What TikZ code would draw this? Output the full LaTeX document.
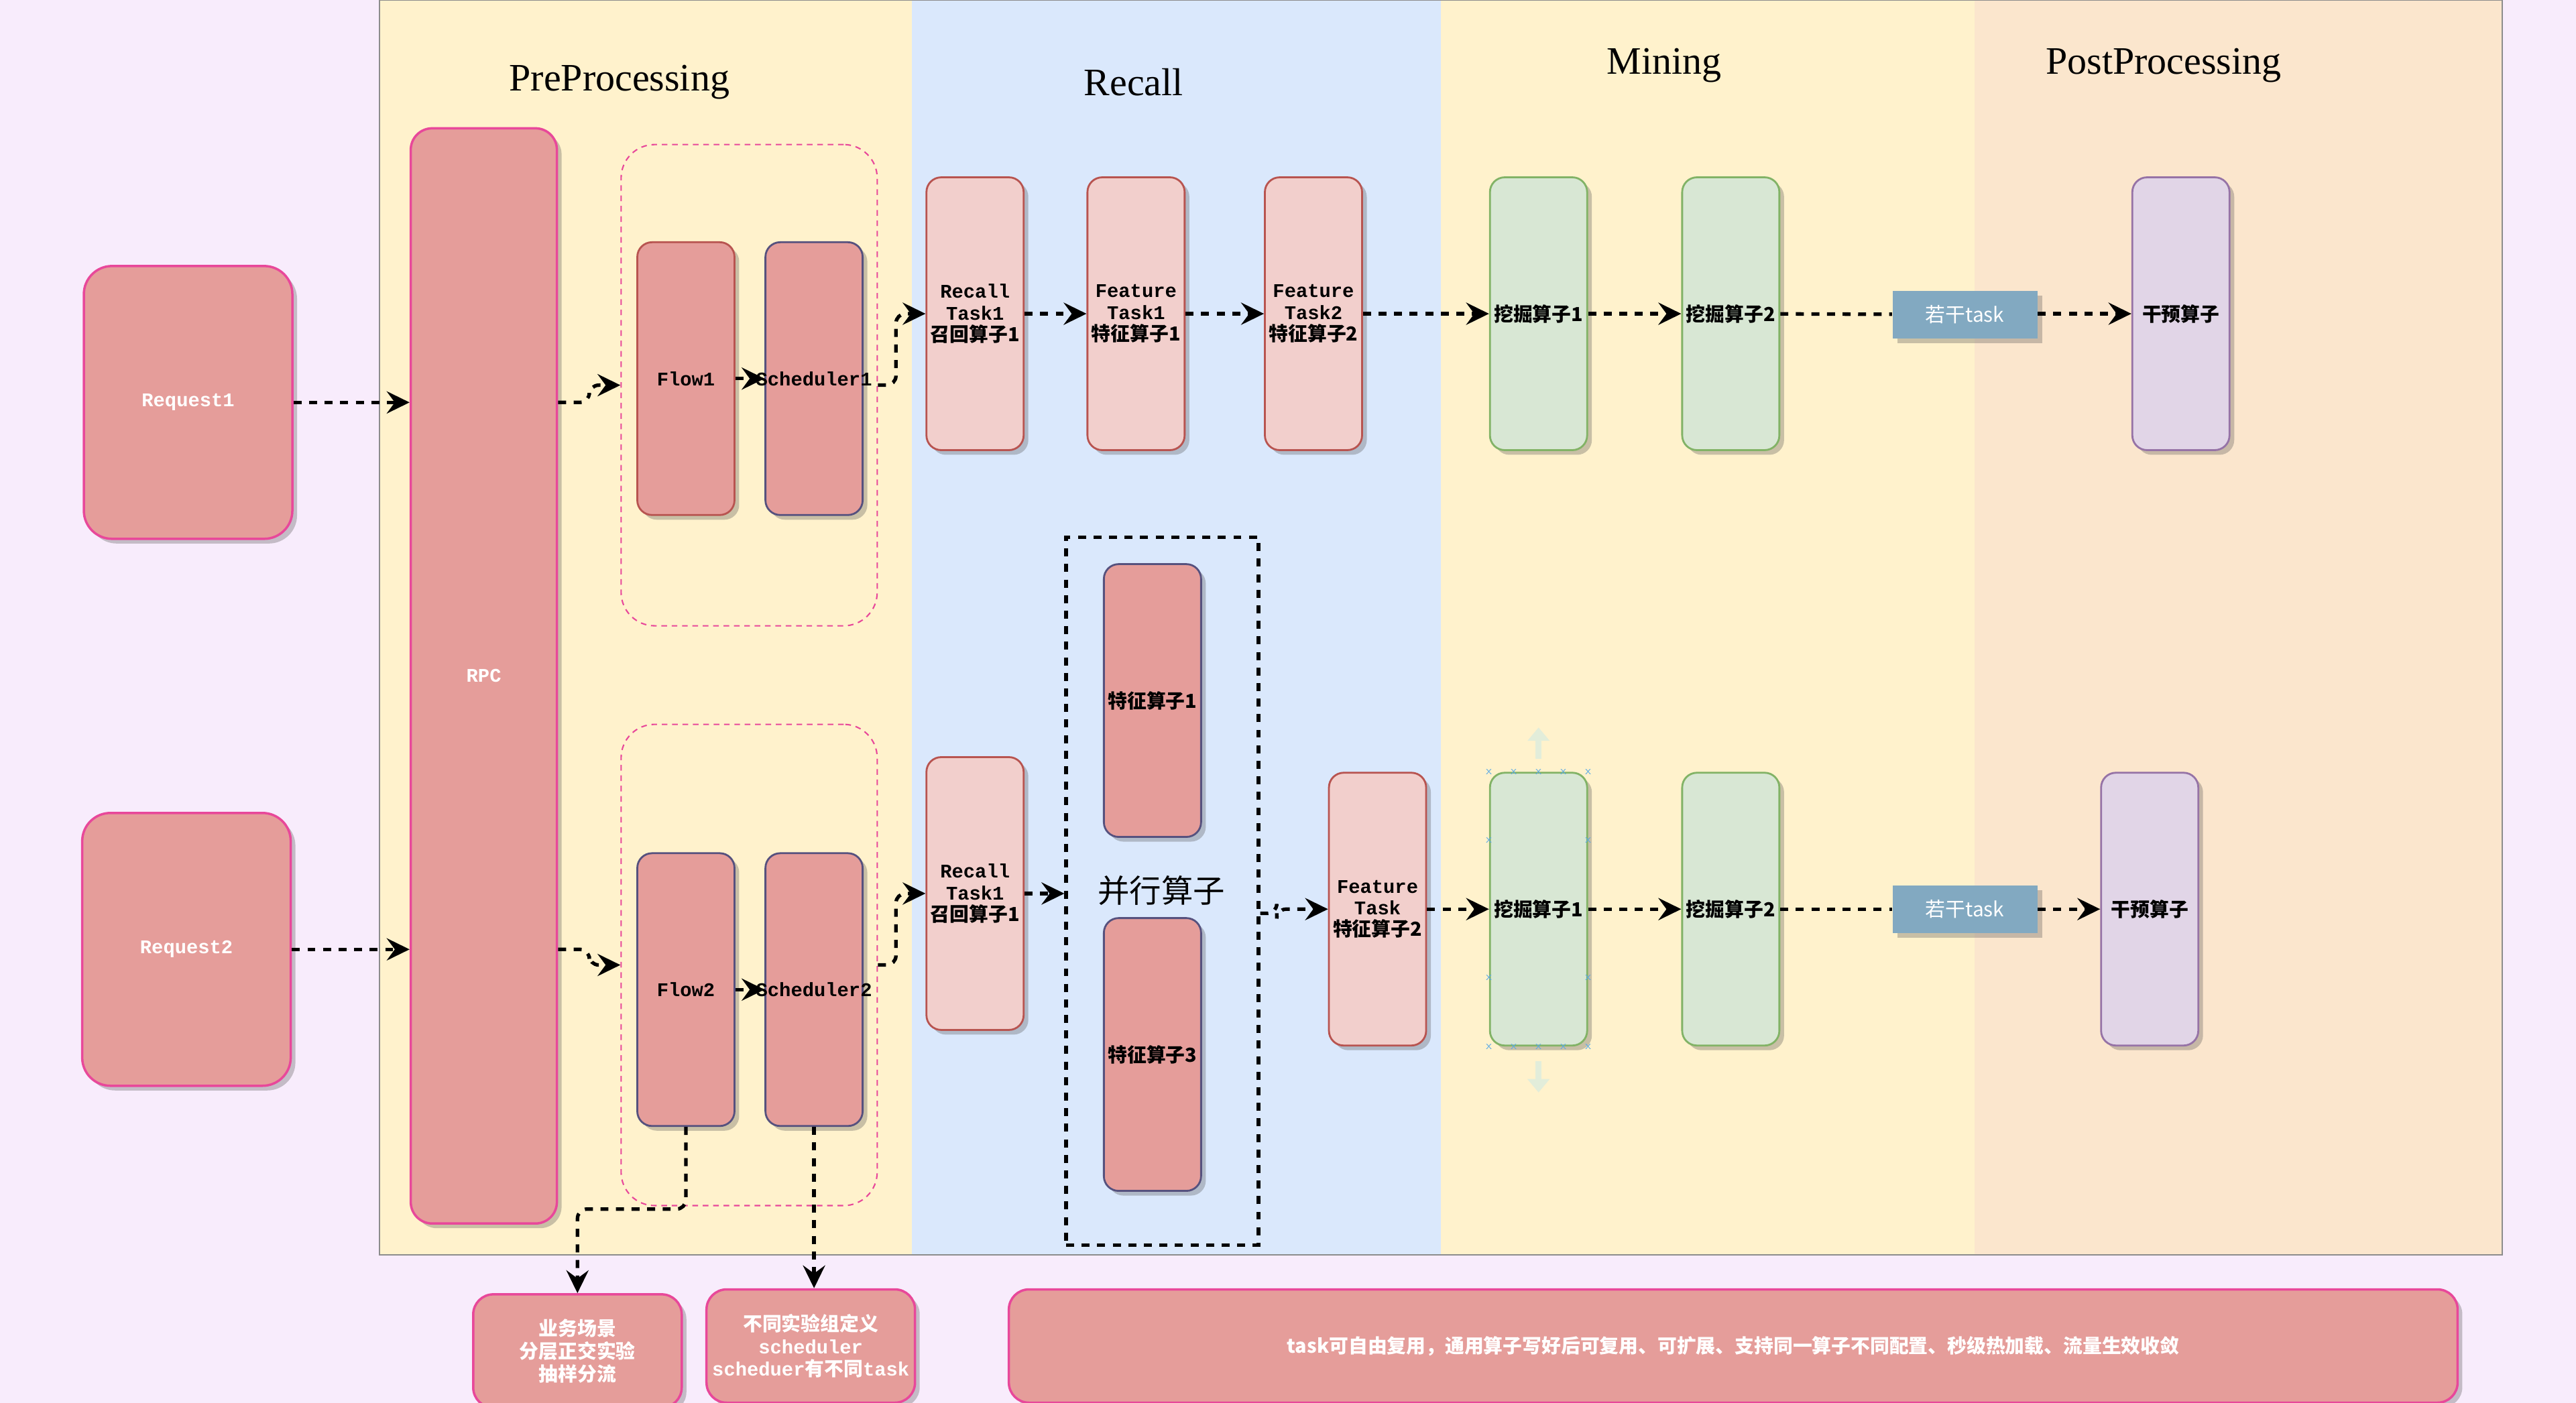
\documentclass[tikz,border=0pt]{standalone}
\usepackage{fontspec}
\setmainfont{Liberation Serif}
\setmonofont{Liberation Mono}
\newfontfamily\cjk{Noto Sans CJK SC}
\usetikzlibrary{arrows.meta,positioning,shadows,calc}
\definecolor{pagebg}{HTML}{F8ECFC}
\definecolor{preyellow}{HTML}{FFF2CC}
\definecolor{recallblue}{HTML}{DAE8FC}
\definecolor{postorange}{HTML}{FBE6CD}
\definecolor{salmon}{HTML}{E59D9A}
\definecolor{hotpink}{HTML}{E8489A}
\definecolor{brick}{HTML}{B85450}
\definecolor{slate}{HTML}{56517E}
\definecolor{palered}{HTML}{F2CFCC}
\definecolor{palegreen}{HTML}{D8E7D4}
\definecolor{leaf}{HTML}{82B366}
\definecolor{lilac}{HTML}{E1D5E7}
\definecolor{plum}{HTML}{9673A6}
\definecolor{steel}{HTML}{82A9C1}
\definecolor{hint}{HTML}{E2EDDA}
\definecolor{handle}{HTML}{5AA9E6}
\newcommand{\monolab}{\ttfamily\bfseries\fontsize{8.2}{9.2}\selectfont}
\newcommand{\cjklab}{\cjk\bfseries\fontsize{8.2}{9.6}\selectfont}
\newcommand{\hang}[1]{\makebox[0pt][c]{#1}}
\tikzset{
  shade/.style ={drop shadow={shadow xshift=0.07cm,shadow yshift=-0.07cm,
                 opacity=0.3,fill=black!70}},
  bigbox/.style={rounded corners=0.42cm,draw=hotpink,line width=1pt,fill=salmon,
                 minimum width=3.11cm,minimum height=4.07cm,text=white,
                 font=\monolab,shade},
  task/.style  ={rounded corners=0.22cm,line width=0.8pt,minimum width=1.45cm,
                 minimum height=4.07cm,inner sep=0pt,align=center,
                 font=\monolab,shade},
  redtask/.style  ={task,draw=brick,fill=palered},
  flowtask/.style ={task,draw=slate,fill=salmon},
  minetask/.style ={task,draw=leaf,fill=palegreen,font=\cjklab},
  posttask/.style ={task,draw=plum,fill=lilac,font=\cjklab},
  group/.style ={rounded corners=0.5cm,draw=hotpink,line width=0.6pt,
                 dash pattern=on 2.4pt off 2pt,minimum width=3.82cm,
                 minimum height=7.18cm},
  tagbox/.style={fill=steel,minimum width=2.16cm,minimum height=0.71cm,
                 inner sep=0pt,text=white,font=\cjk\fontsize{8.5}{10}\selectfont,shade},
  note/.style  ={rounded corners=0.3cm,draw=hotpink,line width=1pt,fill=salmon,
                 minimum width=3.11cm,minimum height=1.69cm,inner sep=1pt,
                 align=center,text=white,font=\cjklab,shade},
  title/.style ={font=\fontsize{16.5}{20}\selectfont},
  link/.style  ={-{Stealth[length=3.4mm,width=3.3mm,inset=1.2mm]},line width=1.5pt,
                 dash pattern=on 3.4pt off 3.2pt},
  plain/.style ={line width=1.5pt,dash pattern=on 3.4pt off 3.2pt},
  ghost/.style ={-{Triangle[length=2mm,width=3.2mm]},draw=hint,line width=2.6pt},
  handlex/.style={text=handle,inner sep=0pt,font=\sffamily\fontsize{5}{5}\selectfont}
}
\begin{document}
\begin{tikzpicture}[x=0.0245cm,y=-0.0245cm]
  \useasboundingbox (0,0) rectangle (1568,854);
  \fill[pagebg] (0,0) rectangle (1568,854);
  % stage bands
  \fill[preyellow]  (231,0) rectangle (555,764);
  \fill[recallblue] (555,0) rectangle (877,764);
  \fill[preyellow]  (877,0) rectangle (1202,764);
  \fill[postorange] (1202,0) rectangle (1523,764);
  \draw[black!45,line width=0.5pt] (231,0) rectangle (1523,764);
  \node[title] (tpre)  at (377,50)  {PreProcessing};
  \node[title] (trec)  at (690,50)  {Recall};
  \node[title] (tmin)  at (1013,40) {Mining};
  \node[title] (tpost) at (1317,40) {PostProcessing};

  % entry
  \node[bigbox] (req1) at (114.5,245) {Request1};
  \node[bigbox] (req2) at (113.5,578) {Request2};
  \node[bigbox,rounded corners=0.32cm,minimum width=2.18cm,minimum height=16.34cm]
       (rpc) at (294.5,411.5) {RPC};

  % preprocessing groups
  \node[group] (grp1) at (456,234.5) {};
  \node[group] (grp2) at (456,587.5) {};
  \node[flowtask,draw=brick] (flow1)  at (417.5,230.5) {Flow1};
  \node[flowtask] (sched1) at (495.5,230.5) {\hang{Scheduler1}};
  \node[flowtask] (flow2)  at (417.5,602.5) {Flow2};
  \node[flowtask] (sched2) at (495.5,602.5) {\hang{Scheduler2}};

  % upper chain
  \node[redtask] (rt1) at (593.5,191) {Recall\\Task1\\{\cjk 召回算子1}};
  \node[redtask] (ft1) at (691.5,191) {Feature\\Task1\\{\cjk 特征算子1}};
  \node[redtask] (ft2) at (799.5,191) {Feature\\Task2\\{\cjk 特征算子2}};
  \node[minetask] (mine1) at (936.5,191)  {挖掘算子1};
  \node[minetask] (mine2) at (1053.5,191) {挖掘算子2};
  \node[tagbox]   (tag1)  at (1196,191.5) {若干task};
  \node[posttask] (post1) at (1327.5,191) {干预算子};

  % lower chain
  \node[redtask] (rt2) at (593.5,544) {Recall\\Task1\\{\cjk 召回算子1}};
  \node[draw,line width=1.5pt,dash pattern=on 3.4pt off 3.2pt,minimum width=2.87cm,
        minimum height=10.56cm] (par) at (707.5,542.5) {};
  \node[flowtask,font=\cjklab] (feat1) at (701.5,426.5) {特征算子1};
  \node[flowtask,font=\cjklab] (feat3) at (701.5,642)   {特征算子3};
  \node[font=\cjk\fontsize{13.5}{16}\selectfont] (parlab) at (707,542) {并行算子};
  \node[redtask] (ftb) at (838.5,553.5) {Feature\\Task\\{\cjk 特征算子2}};
  \node[minetask] (mine1b) at (936.5,553.5)  {挖掘算子1};
  \node[minetask] (mine2b) at (1053.5,553.5) {挖掘算子2};
  \node[tagbox]   (tag2)   at (1196,553.5)   {若干task};
  \node[posttask] (post2)  at (1308.5,553.5) {干预算子};

  % selection handles left on 挖掘算子1
  \foreach \hx in {0,0.25,0.5,0.75,1} {
    \node[handlex] at ($(mine1b.north west)!\hx!(mine1b.north east)$) {x};
    \node[handlex] at ($(mine1b.south west)!\hx!(mine1b.south east)$) {x};
  }
  \foreach \hy in {0.25,0.75} {
    \node[handlex] at ($(mine1b.north west)!\hy!(mine1b.south west)$) {x};
    \node[handlex] at ($(mine1b.north east)!\hy!(mine1b.south east)$) {x};
  }
  \coordinate (gup)   at ($(mine1b.north)+(0,-8)$);
  \coordinate (gdown) at ($(mine1b.south)+(0,9)$);
  \draw[ghost] (gup) -- ++(0,-19);
  \draw[ghost] (gdown) -- ++(0,19);

  % notes
  \node[note] (note1) at (351.5,822.5) {业务场景\\分层正交实验\\抽样分流};
  \node[note] (note2) at (493.5,819.5) {不同实验组定义\\{\ttfamily scheduler}\\{\ttfamily scheduer}有不同{\ttfamily task}};
  \node[note,minimum width=21.61cm] (note3) at (1055,819.5)
       {task可自由复用，通用算子写好后可复用、可扩展、支持同一算子不同配置、秒级热加载、流量生效收敛};

  % connectors
  \draw[link] (req1.east) -- (req1.east -| rpc.west);
  \draw[link] (req2.east) -- (req2.east -| rpc.west);
  \draw[link,rounded corners=4pt] (rpc.east |- req1.east) -- ++(19,0) |- (grp1.west);
  \draw[link,rounded corners=4pt] (rpc.east |- req2.east) -- ++(19,0) |- (grp2.west);
  \draw[link] (flow1) -- (sched1);
  \draw[link] (flow2) -- (sched2);
  \draw[link,rounded corners=4pt] (grp1.east) -- ++(11,0) |- (rt1.west);
  \draw[link,rounded corners=4pt] (grp2.east) -- ++(11,0) |- (rt2.west);
  \draw[link] (rt1) -- (ft1);
  \draw[link] (ft1) -- (ft2);
  \draw[link] (ft2) -- (mine1);
  \draw[link] (mine1) -- (mine2);
  \draw[plain] (mine2) -- (tag1);
  \draw[link] (tag1.east |- post1) -- (post1);
  \draw[link] (rt2.east) -- (rt2.east -| par.west);
  \draw[link,rounded corners=4pt] (par.east |- parlab.south) -- ++(10,0) |- (ftb.west);
  \draw[link] (ftb) -- (mine1b);
  \draw[link] (mine1b) -- (mine2b);
  \draw[plain] (mine2b) -- (tag2);
  \draw[link] (tag2) -- (post2);
  \draw[link,rounded corners=4pt] (flow2.south) -- ++(0,50) -| (note1.north);
  \draw[link] (sched2.south) -- (sched2.south |- note2.north);
\end{tikzpicture}
\end{document}
